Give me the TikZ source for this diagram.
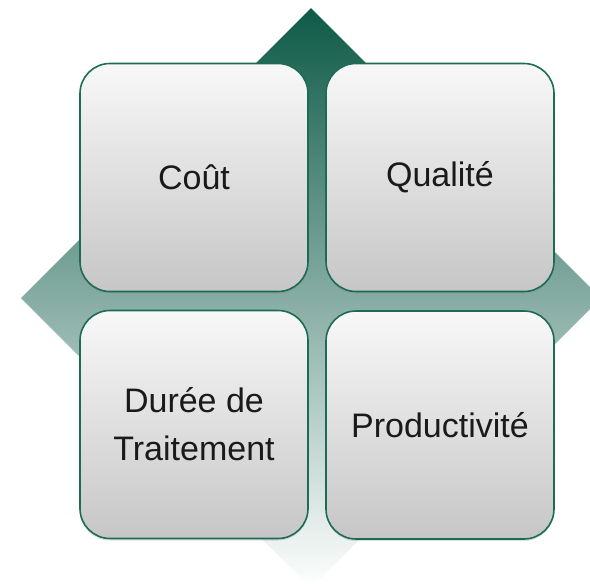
\documentclass[tikz,border=0pt]{standalone}
\usepackage{fontspec}
\setmainfont{Liberation Sans}
\usetikzlibrary{shadows}
\definecolor{dgreen}{HTML}{0E5A47}
\definecolor{bordergreen}{HTML}{1C6C55}
\definecolor{boxtop}{HTML}{F8F8F8}
\definecolor{boxbot}{HTML}{C6C6C6}
\definecolor{txt}{HTML}{1A1A1A}
\tikzset{
  quadbox/.style={rectangle, rounded corners=30pt, minimum width=228pt, minimum height=228pt,
    inner sep=0pt, draw=bordergreen, line width=1.6pt, top color=boxtop, bottom color=boxbot,
    drop shadow={shadow xshift=0pt, shadow yshift=-2pt, opacity=0.25},
    align=center, text=txt, font=\fontsize{34}{48}\selectfont},
  backdiamond/.style={top color=dgreen, bottom color=white, draw=none}
}
\begin{document}
\begin{tikzpicture}[x=1pt,y=-1pt]
\useasboundingbox (0,0) rectangle (590,584);
\begin{scope}
\clip (0,0) rectangle (590,584);
\path[backdiamond] (311,8) -- (601,298) -- (311,588) -- (21,298) -- cycle;
\end{scope}
\node[quadbox] (cout) at (194,177.5) {Coût};
\node[quadbox] (qual) at (440,177.5) {Qualité};
\node[quadbox] (duree) at (194,424.5) {Durée de\\Traitement};
\node[quadbox] (prod) at (440,425) {Productivité};
\end{tikzpicture}
\end{document}
